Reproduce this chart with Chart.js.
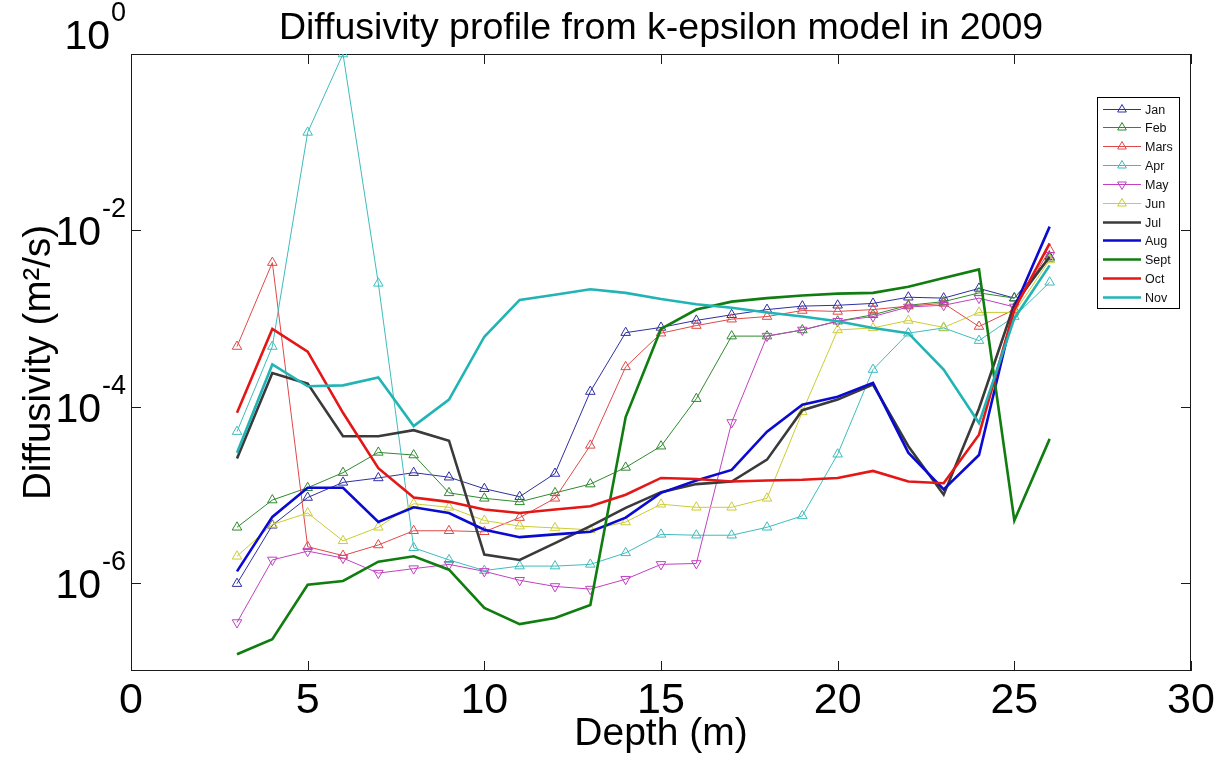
<!DOCTYPE html>
<html>
<head>
<meta charset="utf-8">
<script src="https://cdn.jsdelivr.net/npm/chart.js@4/dist/chart.umd.min.js"></script>
<style>
  html, body { margin: 0; padding: 0; background: #fff; }
</style>
</head>
<body>
<canvas id="chart" width="1223" height="763"></canvas>
<script>
// depth (m) of every profile point
const depths = [3, 4, 5, 6, 7, 8, 9, 10, 11, 12, 13, 14, 15, 16, 17, 18, 19, 20, 21, 22, 23, 24, 25, 26];

// diffusivity (m2/s)
const jan = [9.8e-7, 4.5e-6, 9.3e-6, 1.38e-5, 1.55e-5, 1.78e-5, 1.58e-5, 1.17e-5, 9.5e-6, 1.74e-5, 1.48e-4, 6.9e-4,
  7.9e-4, 9.5e-4, 1.1e-3, 1.26e-3, 1.38e-3, 1.41e-3, 1.48e-3, 1.74e-3, 1.7e-3, 2.19e-3, 1.7e-3, 5.0e-3];
const feb = [4.27e-6, 8.7e-6, 1.2e-5, 1.78e-5, 3.02e-5, 2.82e-5, 1.05e-5, 9.1e-6, 8.3e-6, 1.05e-5, 1.32e-5, 2.04e-5,
  3.55e-5, 1.23e-4, 6.3e-4, 6.3e-4, 7.4e-4, 9.3e-4, 1.1e-3, 1.41e-3, 1.55e-3, 1.95e-3, 1.7e-3, 4.8e-3];
const mars = [4.8e-4, 4.3e-3, 2.57e-6, 2.04e-6, 2.69e-6, 3.9e-6, 3.9e-6, 3.8e-6, 5.5e-6, 9.1e-6, 3.63e-5, 2.82e-4,
  6.8e-4, 8.3e-4, 9.8e-4, 1.05e-3, 1.23e-3, 1.2e-3, 1.26e-3, 1.38e-3, 1.48e-3, 8.1e-4, 1.26e-3, 6.0e-3];
const apr = [5.2e-5, 4.8e-4, 0.129, 1.0, 2.5e-3, 2.5e-6, 1.82e-6, 1.38e-6, 1.55e-6, 1.55e-6, 1.62e-6, 2.19e-6,
  3.55e-6, 3.47e-6, 3.47e-6, 4.27e-6, 5.75e-6, 2.88e-5, 2.63e-4, 6.8e-4, 7.8e-4, 5.6e-4, 1.05e-3, 2.57e-3];
const may = [3.55e-7, 1.82e-6, 2.29e-6, 1.91e-6, 1.29e-6, 1.45e-6, 1.62e-6, 1.35e-6, 1.07e-6, 9.1e-7, 8.5e-7, 1.1e-6,
  1.62e-6, 1.66e-6, 6.6e-5, 6.3e-4, 7.4e-4, 9.3e-4, 1.05e-3, 1.35e-3, 1.41e-3, 1.7e-3, 1.35e-3, 5.2e-3];
const jun = [2.0e-6, 4.6e-6, 6.2e-6, 3.0e-6, 4.27e-6, 7.9e-6, 7.2e-6, 5.1e-6, 4.4e-6, 4.2e-6, 4.0e-6, 4.9e-6,
  7.8e-6, 7.2e-6, 7.2e-6, 9.1e-6, 8.7e-5, 7.4e-4, 7.8e-4, 9.5e-4, 7.9e-4, 1.17e-3, 1.17e-3, 4.6e-3];
const jul = [2.57e-5, 2.4e-4, 1.82e-4, 4.6e-5, 4.6e-5, 5.4e-5, 4.1e-5, 2.09e-6, 1.82e-6, 2.82e-6, 4.4e-6, 7.1e-6,
  1.07e-5, 1.32e-5, 1.41e-5, 2.5e-5, 9.1e-5, 1.2e-4, 1.78e-4, 3.55e-5, 1.0e-5, 9.5e-5, 1.45e-3, 5.0e-3];
const aug = [1.35e-6, 5.6e-6, 1.2e-5, 1.2e-5, 4.9e-6, 7.2e-6, 6.2e-6, 4.0e-6, 3.3e-6, 3.55e-6, 3.8e-6, 5.5e-6,
  1.05e-5, 1.45e-5, 1.91e-5, 5.2e-5, 1.05e-4, 1.29e-4, 1.86e-4, 3.0e-5, 1.15e-5, 2.82e-5, 1.32e-3, 1.1e-2];
const sept = [1.55e-7, 2.3e-7, 9.5e-7, 1.05e-6, 1.74e-6, 2.0e-6, 1.41e-6, 5.2e-7, 3.4e-7, 4.0e-7, 5.6e-7, 7.6e-5,
  7.6e-4, 1.26e-3, 1.55e-3, 1.7e-3, 1.82e-3, 1.91e-3, 1.95e-3, 2.29e-3, 2.88e-3, 3.6e-3, 5.1e-6, 4.3e-5];
const oct = [8.5e-5, 7.6e-4, 4.2e-4, 8.5e-5, 2.0e-5, 9.3e-6, 8.3e-6, 6.8e-6, 6.2e-6, 6.8e-6, 7.4e-6, 1.0e-5,
  1.55e-5, 1.51e-5, 1.41e-5, 1.45e-5, 1.48e-5, 1.55e-5, 1.86e-5, 1.41e-5, 1.35e-5, 4.8e-5, 1.26e-3, 7.1e-3];
const nov = [3.0e-5, 3.0e-4, 1.7e-4, 1.74e-4, 2.14e-4, 6.0e-5, 1.2e-4, 6.2e-4, 1.62e-3, 1.86e-3, 2.14e-3, 1.95e-3,
  1.66e-3, 1.45e-3, 1.32e-3, 1.17e-3, 1.05e-3, 9.3e-4, 7.8e-4, 6.8e-4, 2.63e-4, 6.5e-5, 1.0e-3, 4.0e-3];

const monthNames = ['Jan', 'Feb', 'Mars', 'Apr', 'May', 'Jun', 'Jul', 'Aug', 'Sept', 'Oct', 'Nov'];
const xTickValues = [0, 5, 10, 15, 20, 25, 30];
const yTickValues = [1e-6, 1e-4, 1e-2, 1];
const yTickBase = '10';
const yTickExponents = ['-6', '-4', '-2', '0'];

const FONT = "'Liberation Sans', Arial, sans-serif";

const series = [jan, feb, mars, apr, may, jun, jul, aug, sept, oct, nov];
const colors = ['#2f2fa3', '#2f8a2f', '#e04848', '#3fbcbc', '#c040c0', '#cccc33',
  '#3a3a3a', '#0a0ad0', '#0f7d0f', '#e41616', '#22b4b4'];
// first six months are thin with triangle markers, the rest thick plain lines
const thin = [true, true, true, true, true, true, false, false, false, false, false];

const datasets = series.map((vals, i) => ({
  label: monthNames[i],
  data: depths.map((d, j) => ({ x: d, y: vals[j] })),
  borderColor: colors[i],
  borderWidth: thin[i] ? 1 : 2.6,
  pointRadius: thin[i] ? 5.5 : 0,
  pointStyle: 'triangle',
  pointRotation: i === 4 ? 180 : 0,
  pointBorderColor: colors[i],
  pointBackgroundColor: 'rgba(0,0,0,0)',
  pointBorderWidth: 1,
  tension: 0,
  order: series.length - i
}));

// matlab style box with inward ticks
const axesBox = {
  id: 'axesBox',
  beforeDatasetsDraw(chart) {
    const { ctx, chartArea: a, scales: { x, y } } = chart;
    ctx.save();
    ctx.strokeStyle = '#1a1a1a';
    ctx.lineWidth = 1;
    ctx.strokeRect(a.left + 0.5, a.top + 0.5, a.width - 1, a.height - 1);
    ctx.beginPath();
    x.ticks.forEach(t => {
      const px = Math.round(x.getPixelForValue(t.value)) + 0.5;
      ctx.moveTo(px, a.bottom); ctx.lineTo(px, a.bottom - 10);
      ctx.moveTo(px, a.top); ctx.lineTo(px, a.top + 10);
    });
    y.ticks.forEach(t => {
      const py = Math.round(y.getPixelForValue(t.value)) + 0.5;
      ctx.moveTo(a.left, py); ctx.lineTo(a.left + 10, py);
      ctx.moveTo(a.right, py); ctx.lineTo(a.right - 10, py);
    });
    ctx.stroke();
    ctx.restore();
  }
};

// "10" with a raised exponent, placed at each tick of the log scale
const powerLabels = {
  id: 'powerLabels',
  afterDraw(chart) {
    const { ctx, scales: { y } } = chart;
    ctx.save();
    ctx.fillStyle = '#000';
    ctx.textAlign = 'right';
    ctx.textBaseline = 'alphabetic';
    y.ticks.forEach(t => {
      // the top label sits above the frame, as in the original figure
      const py = y.getPixelForValue(t.value) - (t.value === y.max ? 20 : 0);
      const right = y.right - 5;
      const exp = yTickExponents[yTickValues.indexOf(t.value)];
      ctx.font = '27px ' + FONT;
      const ew = ctx.measureText(exp).width;
      ctx.fillText(exp, right, py - 13);
      ctx.font = '41px ' + FONT;
      ctx.fillText(yTickBase, right - ew - 1, py + 15);
    });
    ctx.restore();
  }
};

const monthLegend = {
  id: 'monthLegend',
  afterDraw(chart) {
    const { ctx, chartArea: a } = chart;
    const x0 = a.right - 94, y0 = a.top + 43, w = 82, h = 211, step = 18.85;
    ctx.save();
    ctx.fillStyle = '#fff';
    ctx.fillRect(x0, y0, w, h);
    ctx.strokeStyle = '#000';
    ctx.lineWidth = 1;
    ctx.strokeRect(x0 + 0.5, y0 + 0.5, w, h);
    chart.data.datasets.forEach((ds, i) => {
      const ly = Math.round(y0 + 11.5 + i * step) + 0.5;
      ctx.strokeStyle = ds.borderColor;
      ctx.lineWidth = ds.borderWidth;
      ctx.beginPath();
      ctx.moveTo(x0 + 6, ly);
      ctx.lineTo(x0 + 44, ly);
      ctx.stroke();
      if (ds.pointRadius > 0) {
        const r = 5, cx = x0 + 25, flip = ds.pointRotation ? -1 : 1;
        ctx.lineWidth = 1;
        ctx.beginPath();
        ctx.moveTo(cx, ly - flip * r);
        ctx.lineTo(cx + r * 0.866, ly + flip * r * 0.5);
        ctx.lineTo(cx - r * 0.866, ly + flip * r * 0.5);
        ctx.closePath();
        ctx.stroke();
      }
      ctx.fillStyle = '#111';
      ctx.font = '12.5px ' + FONT;
      ctx.textBaseline = 'middle';
      ctx.fillText(ds.label, x0 + 48, ly + 1);
    });
    ctx.restore();
  }
};

new Chart(document.getElementById('chart'), {
  type: 'line',
  data: { datasets },
  options: {
    responsive: false,
    animation: false,
    devicePixelRatio: 1,
    layout: { padding: { left: 0, right: 32, top: 0, bottom: 0 } },
    plugins: {
      legend: { display: false },
      tooltip: { enabled: false },
      title: {
        display: true,
        fullSize: false,
        text: 'Diffusivity profile from k-epsilon model in 2009',
        color: '#000',
        font: { family: FONT, size: 37.5, weight: 'normal' },
        padding: { top: 6, bottom: 3 }
      }
    },
    scales: {
      x: {
        type: 'linear',
        min: 0,
        max: 30,
        afterBuildTicks: s => { s.ticks = xTickValues.map(v => ({ value: v })); },
        afterFit: s => { s.height = 92; },
        grid: { display: false },
        border: { display: false },
        ticks: { color: '#000', font: { family: FONT, size: 43, lineHeight: 1 }, padding: 1, maxRotation: 0 },
        title: {
          display: true,
          text: 'Depth (m)',
          color: '#000',
          font: { family: FONT, size: 39 },
          padding: { top: 0, bottom: 5 }
        }
      },
      y: {
        type: 'logarithmic',
        min: 1e-7,
        max: 1,
        afterBuildTicks: s => { s.ticks = yTickValues.map(v => ({ value: v })); },
        afterFit: s => { s.width = 131; },
        grid: { display: false },
        border: { display: false },
        ticks: { display: false },
        title: {
          display: true,
          text: 'Diffusivity (m\u00B2/s)',
          color: '#000',
          font: { family: FONT, size: 38.5 },
          padding: { top: 16, bottom: 0 }
        }
      }
    }
  },
  plugins: [axesBox, powerLabels, monthLegend]
});
</script>
</body>
</html>
